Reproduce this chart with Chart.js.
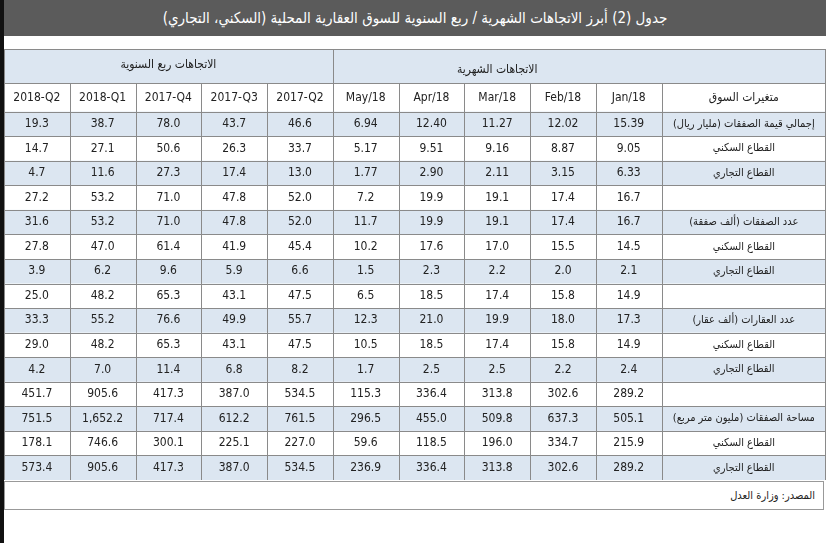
<!DOCTYPE html>
<html><head><meta charset="utf-8">
<script src="https://cdn.jsdelivr.net/npm/chart.js@4"></script>
<style>
body{margin:0;background:#fff;width:830px;height:543px;overflow:hidden;font-family:"DejaVu Sans Condensed","DejaVu Sans",sans-serif}
#title{position:absolute;left:4px;top:0;width:822px;height:36px;background:#5b5b5b;color:#fff;font-size:15px;line-height:36px;text-align:center;direction:rtl}
#lb{position:absolute;left:0;top:0;width:4px;height:543px;background:#111}
#wrap{position:absolute;left:4px;top:49px;width:822px;height:431px}
#foot{position:absolute;left:4px;top:481px;width:820px;height:29px;border:1px solid #999;font-size:11px;line-height:28px;direction:rtl;text-align:right;box-sizing:border-box;padding-right:8px;color:#222}
</style></head><body>
<div id="lb"></div>
<div id="title">جدول (2) أبرز الاتجاهات الشهرية / ربع السنوية للسوق العقارية المحلية (السكني، التجاري)</div>
<div id="wrap"><canvas id="c"></canvas></div>
<div id="foot">المصدر: وزارة العدل</div>
<script>
const groupMonthly = "الاتجاهات الشهرية";
const groupQuarterly = "الاتجاهات ربع السنوية";
const labelHeader = "متغيرات السوق";
const columns = ["Jan/18","Feb/18","Mar/18","Apr/18","May/18","2017-Q2","2017-Q3","2017-Q4","2018-Q1","2018-Q2"];
const rowLabels = ["إجمالي قيمة الصفقات (مليار ريال)","القطاع السكني","القطاع التجاري","","عدد الصفقات (ألف صفقة)","القطاع السكني","القطاع التجاري","","عدد العقارات (ألف عقار)","القطاع السكني","القطاع التجاري","","مساحة الصفقات (مليون متر مربع)","القطاع السكني","القطاع التجاري"];
const values = [
["15.39","12.02","11.27","12.40","6.94","46.6","43.7","78.0","38.7","19.3"],
["9.05","8.87","9.16","9.51","5.17","33.7","26.3","50.6","27.1","14.7"],
["6.33","3.15","2.11","2.90","1.77","13.0","17.4","27.3","11.6","4.7"],
["16.7","17.4","19.1","19.9","7.2","52.0","47.8","71.0","53.2","27.2"],
["16.7","17.4","19.1","19.9","11.7","52.0","47.8","71.0","53.2","31.6"],
["14.5","15.5","17.0","17.6","10.2","45.4","41.9","61.4","47.0","27.8"],
["2.1","2.0","2.2","2.3","1.5","6.6","5.9","9.6","6.2","3.9"],
["14.9","15.8","17.4","18.5","6.5","47.5","43.1","65.3","48.2","25.0"],
["17.3","18.0","19.9","21.0","12.3","55.7","49.9","76.6","55.2","33.3"],
["14.9","15.8","17.4","18.5","10.5","47.5","43.1","65.3","48.2","29.0"],
["2.4","2.2","2.5","2.5","1.7","8.2","6.8","11.4","7.0","4.2"],
["289.2","302.6","313.8","336.4","115.3","534.5","387.0","417.3","905.6","451.7"],
["505.1","637.3","509.8","455.0","296.5","761.5","612.2","717.4","1,652.2","751.5"],
["215.9","334.7","196.0","118.5","59.6","227.0","225.1","300.1","746.6","178.1"],
["289.2","302.6","313.8","336.4","236.9","534.5","387.0","417.3","905.6","573.4"]
];
const LABW=2.5, H1=1.4, H2=1.15;
const nCol=columns.length, total=nCol+LABW;
const tablePlugin={id:'tbl',afterDraw(ch){
 const c=ch.ctx,x=ch.scales.x,y=ch.scales.y;
 const X=v=>x.getPixelForValue(v), Y=v=>y.getPixelForValue(v);
 const colL=i=>nCol-1-i;
 c.save();
 c.fillStyle='#dce6f1'; c.fillRect(X(0),Y(0),X(total)-X(0),Y(H1)-Y(0));
 values.forEach((r,i)=>{ if(i%2===0){c.fillRect(X(0),Y(H1+H2+i),X(total)-X(0),Y(H1+H2+i+1)-Y(H1+H2+i));}});
 c.strokeStyle='#8a8a8a'; c.lineWidth=1;
 const hl=(v,a,b)=>{c.beginPath();c.moveTo(X(a),Math.round(Y(v))+.5);c.lineTo(X(b),Math.round(Y(v))+.5);c.stroke();};
 const vl=(v,a,b)=>{c.beginPath();c.moveTo(Math.round(X(v))+.5,Y(a));c.lineTo(Math.round(X(v))+.5,Y(b));c.stroke();};
 const bot=H1+H2+values.length;
 hl(0,0,total);hl(H1,0,total);
 for(let i=0;i<values.length;i++)hl(H1+H2+i,0,total);
 vl(0,0,bot);vl(total-0.01,0,bot);vl(nCol,H1,bot);vl(5,0,bot);
 for(let k=1;k<nCol;k++) if(k!==5) vl(k,H1,bot);
 c.textAlign='center';c.textBaseline='middle';c.fillStyle='#222';
 c.font='12px "DejaVu Sans Condensed"';
 c.fillText(groupQuarterly,X(2.5),Y(H1*0.45));
 c.fillText(groupMonthly,X(7.5),Y(H1*0.6));
 c.fillText(labelHeader,X(nCol+LABW/2),Y(H1+H2/2));
 c.font='12px "DejaVu Sans Condensed"';
 columns.forEach((t,i)=>c.fillText(t,X(colL(i)+.5),Y(H1+H2/2)));
 values.forEach((r,j)=>{
  r.forEach((t,i)=>c.fillText(t,X(colL(i)+.5),Y(H1+H2+j+.5)));
 });
 c.font='11px "DejaVu Sans Condensed"';
 rowLabels.forEach((t,j)=>{ if(t) c.fillText(t,X(nCol+LABW/2),Y(H1+H2+j+.5));});
 c.restore();
}};
new Chart(document.getElementById('c'),{
 type:'scatter',
 data:{datasets:[{data:[],showLine:false}]},
 options:{responsive:true,maintainAspectRatio:false,animation:false,
  layout:{padding:0},
  plugins:{legend:{display:false},tooltip:{enabled:false}},
  scales:{x:{type:'linear',min:0,max:total,display:false},
          y:{type:'linear',min:0,max:H1+H2+values.length,reverse:true,display:false}}},
 plugins:[tablePlugin]
});
</script></body></html>
